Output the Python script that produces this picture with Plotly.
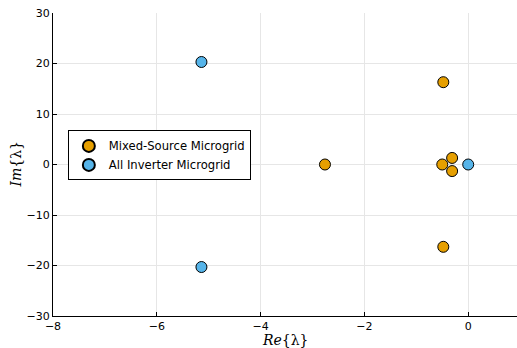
import plotly.graph_objects as go

mixed_re = [-0.48, -2.76, -0.50, -0.31, -0.31, -0.48]
mixed_im = [16.3, 0.0, 0.0, 1.3, -1.3, -16.3]
inv_re = [-5.14, -5.14, 0.0]
inv_im = [20.3, -20.3, 0.0]

fig = go.Figure()
fig.add_trace(go.Scatter(x=mixed_re, y=mixed_im, mode="markers", name="Mixed-Source Microgrid",
                         marker=dict(color="#E69F00", size=11, line=dict(color="black", width=1))))
fig.add_trace(go.Scatter(x=inv_re, y=inv_im, mode="markers", name="All Inverter Microgrid",
                         marker=dict(color="#56B4E9", size=11, line=dict(color="black", width=1))))

axis_common = dict(showgrid=True, gridcolor="#E6E6E6", gridwidth=1, zeroline=False,
                   showline=True, linecolor="black", linewidth=1, ticks="inside",
                   ticklen=4, tickcolor="black", mirror=False,
                   tickfont=dict(family="DejaVu Sans", size=11, color="black"))
fig.update_xaxes(range=[-8, 0.94], tickvals=[-8, -6, -4, -2, 0],
                 ticktext=["\u22128", "\u22126", "\u22124", "\u22122", "0"], **axis_common)
fig.update_yaxes(range=[-30, 30], tickvals=[-30, -20, -10, 0, 10, 20, 30],
                 ticktext=["\u221230", "\u221220", "\u221210", "0", "10", "20", "30"], **axis_common)
fig.add_annotation(text="<i>Re</i>{\u03bb}", xref="paper", yref="paper", x=0.5, y=0,
                   xanchor="center", yanchor="middle", yshift=-24, showarrow=False,
                   font=dict(family="DejaVu Serif", size=14, color="black"))
fig.add_annotation(text="<i>Im</i>{\u03bb}", xref="paper", yref="paper", x=0, y=0.5,
                   xanchor="center", yanchor="middle", xshift=-38, textangle=-90, showarrow=False,
                   font=dict(family="DejaVu Serif", size=14, color="black"))
fig.update_layout(width=517, height=348, margin=dict(l=53, r=0, t=13, b=32),
                  plot_bgcolor="white", paper_bgcolor="white",
                  legend=dict(x=0.032, y=0.53, xanchor="left", yanchor="middle",
                              bordercolor="black", borderwidth=1, bgcolor="white",
                              font=dict(family="DejaVu Sans", size=11.6, color="black"),
                              tracegroupgap=0, itemsizing="constant"))
fig.write_html("out.html")
